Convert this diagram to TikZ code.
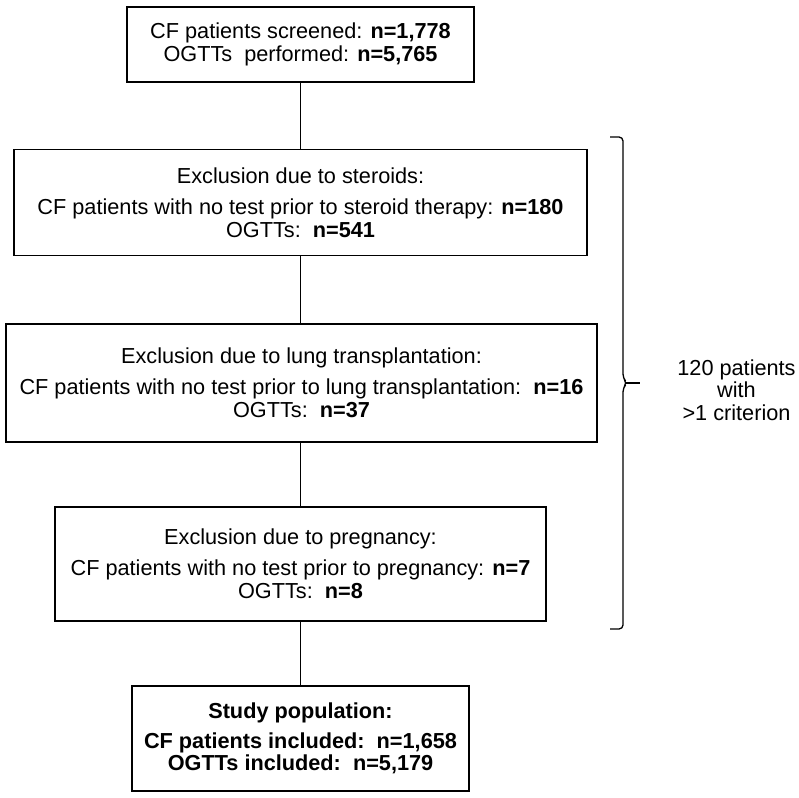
\documentclass[tikz,border=0pt]{standalone}
\usepackage{fontspec}
\setmainfont{Liberation Sans}
\usepackage{tikz}

\begin{document}
\begin{tikzpicture}[x=1pt,y=1pt,
    box/.style={draw=black, line width=1.6pt, align=center, inner sep=0pt,
        font=\fontsize{21.7}{23}\selectfont},
    txt/.style={align=center, inner sep=0pt, font=\fontsize{21.7}{22.5}\selectfont}]
    \useasboundingbox (0,0) rectangle (799,-797);
    % boxes
    \node [box, minimum width=347, minimum height=75] (screened) at (300.5,-44.5)
        {CF patients screened: \textbf{n=1,778}\\OGTTs\ \ performed: \textbf{n=5,765}};
    \node [box, minimum width=573, minimum height=106] (steroids) at (300.5,-202.5)
        {Exclusion due to steroids:\\[8pt]CF patients with no test prior to steroid therapy: \textbf{n=180}\\OGTTs:\ \ \textbf{n=541}};
    \node [box, minimum width=591, minimum height=118] (lung) at (301.5,-383)
        {Exclusion due to lung transplantation:\\[8pt]CF patients with no test prior to lung transplantation:\ \ \textbf{n=16}\\OGTTs:\ \ \textbf{n=37}};
    \node [box, minimum width=491, minimum height=114] (pregnancy) at (300.5,-564)
        {Exclusion due to pregnancy:\\[8pt]CF patients with no test prior to pregnancy: \textbf{n=7}\\OGTTs:\ \ \textbf{n=8}};
    \node [box, minimum width=337, minimum height=105, font=\fontsize{21.7}{22}\selectfont\bfseries] (study) at (300.5,-738.5)
        {Study population:\\[8pt]CF patients included:\ \ n=1,658\\OGTTs included:\ \ n=5,179};
    % connectors
    \draw [line width=1.3pt] (screened.south) -- (steroids.north);
    \draw [line width=1.3pt] (steroids.south) -- (steroids.south |- lung.north);
    \draw [line width=1.3pt] (steroids.south |- lung.south) -- (pregnancy.north);
    \draw [line width=1.3pt] (pregnancy.south) -- (study.north);
    % brace
    \draw [line width=1.3pt, rounded corners=4pt] (610,-137) -- (623,-137) -- (623,-378) -- (627,-383) -- (623,-388) -- (623,-629) -- (610,-629);
    \draw [line width=1.3pt] (625,-383) -- (640,-383);
    \node [txt] (overlap) at (736.5,-390) {120 patients\\with\\>1 criterion};
\end{tikzpicture}
\end{document}
